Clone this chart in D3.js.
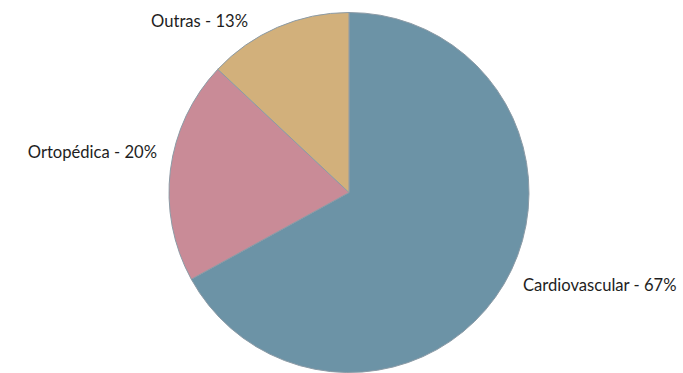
<!DOCTYPE html>
<html>
<head>
<meta charset="utf-8">
<script src="https://cdn.jsdelivr.net/npm/d3@7"></script>
<style>
  html, body { margin: 0; padding: 0; background: #fff; }
  svg { display: block; }
  text { font-family: "Lato", "Open Sans", sans-serif; font-size: 16.6px; fill: #1e1e1e; }
</style>
</head>
<body>
<svg id="chart" width="683" height="373"></svg>
<script>
const categories = ["Cardiovascular", "Ortopédica", "Outras"];
const values = [67, 20, 13];
const colors = ["#6c93a6", "#c98b97", "#d2b07b"];

const svg = d3.select("#chart");
const cx = 349, cy = 192.5, r = 180;
const g = svg.append("g").attr("transform", `translate(${cx},${cy})`);

const data = categories.map((c, i) => ({ name: c, value: values[i], color: colors[i] }));
const pie = d3.pie().value(d => d.value).sort(null);
const arcs = pie(data);
const arc = d3.arc().innerRadius(0).outerRadius(r);

g.selectAll("path").data(arcs).join("path")
  .attr("d", arc)
  .attr("fill", d => d.data.color)
  .attr("stroke", "#8c9ba6")
  .attr("stroke-width", 1);

// label placement: mid-angle on an outer circle, with best-fit nudges (layout only)
const labelR = 198;
const labelNudge = [[3.5, -2.3], [4.4, -9.7], [-22.4, 16.3]];
g.selectAll("text").data(arcs).join("text")
  .each(function(d, i) {
    const a = (d.startAngle + d.endAngle) / 2;
    const x = labelR * Math.sin(a) + labelNudge[i][0];
    const y = -labelR * Math.cos(a) + labelNudge[i][1];
    d3.select(this)
      .attr("x", x)
      .attr("y", y)
      .attr("text-anchor", Math.sin(a) < 0 ? "end" : "start");
  })
  .text(d => `${d.data.name} - ${d.data.value}%`);
</script>
</body>
</html>
